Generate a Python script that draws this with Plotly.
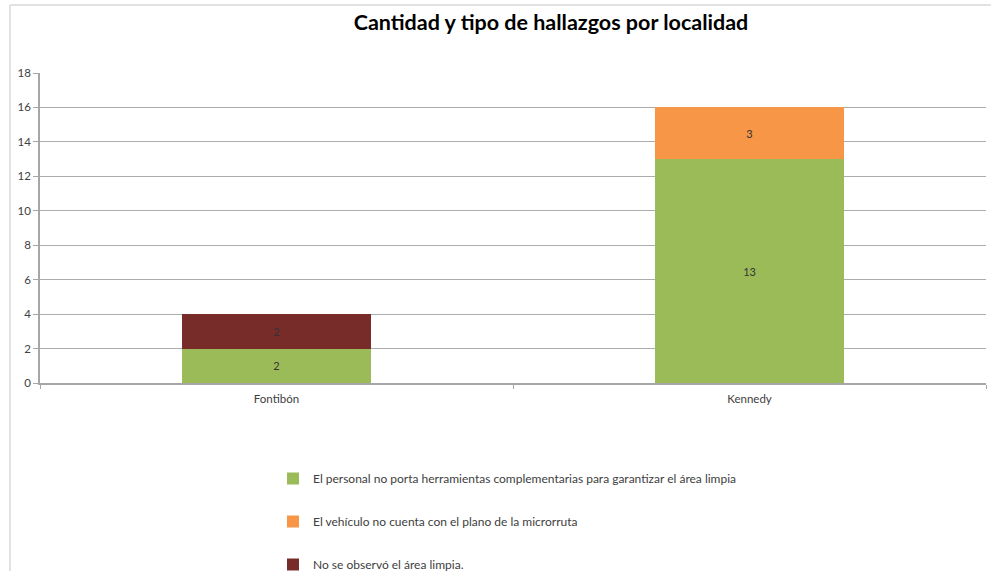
import plotly.graph_objects as go

categories = ["Fontibón", "Kennedy"]
series_names = [
    "El personal no porta herramientas complementarias para garantizar el área limpia",
    "El vehículo no cuenta con el plano de la microrruta",
    "No se observó el área limpia.",
]
personal_values = [2, 13]
vehiculo_values = [None, 3]
area_values = [2, None]
colors = ["#9BBB59", "#F79646", "#772C2A"]

W, H = 991, 571
L, R, T, B = 40, 5, 73, 188
pw = W - L - R
ph = H - T - B

fig = go.Figure()
for name, vals, col in zip(series_names, [personal_values, vehiculo_values, area_values], colors):
    fig.add_trace(go.Bar(
        x=categories, y=vals, name=name, marker=dict(color=col, line=dict(width=0)),
        text=[("" if v is None else str(v)) for v in vals],
        textposition="inside", insidetextanchor="middle",
        textfont=dict(family="Lato", size=11, color="#333333"),
        legendgroup=name,
    ))

border_style = dict(color="#d9d9d9", width=1.5)
fig.update_layout(
    width=W, height=H,
    barmode="stack", bargap=0.6,
    margin=dict(l=L, r=R, t=T, b=B, autoexpand=False),
    paper_bgcolor="white", plot_bgcolor="white",
    font=dict(family="Lato", size=11, color="#404040"),
    title=dict(text="<b>Cantidad y tipo de hallazgos por localidad</b>",
               x=551 / W, xanchor="center", y=1 - 22 / H, yanchor="middle",
               font=dict(family="Lato", size=21.5, color="black")),
    showlegend=True,
    legend=dict(x=(273 - L) / pw, xanchor="left", y=-(464 - (H - B)) / ph, yanchor="top",
                traceorder="grouped", tracegroupgap=24,
                font=dict(family="Lato", size=12, color="#404040"),
                bgcolor="rgba(0,0,0,0)"),
    xaxis=dict(showline=True, linecolor="#a6a6a6", linewidth=1.5, ticks="outside",
               tickson="boundaries", ticklen=4, tickcolor="#a6a6a6",
               ticklabelstandoff=4,
               tickfont=dict(size=11.5, color="#404040"), showgrid=False),
    yaxis=dict(range=[0, 18], dtick=2, showline=True, linecolor="#a6a6a6", linewidth=1.5,
               ticks="outside", ticklen=5, tickcolor="#a6a6a6",
               ticklabelstandoff=0,
               gridcolor="#acacac", gridwidth=1.4, zeroline=False,
               tickfont=dict(size=11.5, color="#404040")),
    shapes=[
        dict(type="line", xref="paper", yref="paper",
             x0=(10 - L) / pw, x1=(W + 2 - L) / pw,
             y0=((H - B) - 5) / ph, y1=((H - B) - 5) / ph, line=border_style, layer="below"),
        dict(type="line", xref="paper", yref="paper",
             x0=(10 - L) / pw, x1=(10 - L) / pw,
             y0=-(H + 2 - (H - B)) / ph, y1=((H - B) - 5) / ph, line=border_style, layer="below"),
    ],
)

fig.write_html("out.html", config={"displayModeBar": False},
               post_script="document.body.style.margin='0px';")
